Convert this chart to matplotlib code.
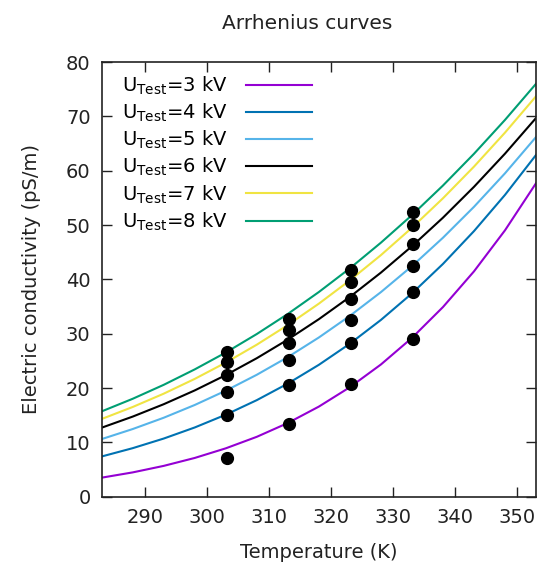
import matplotlib
matplotlib.use("Agg")
import matplotlib.pyplot as plt

plt.rcParams['font.family'] = 'DejaVu Sans'
plt.rcParams['mathtext.fontset'] = 'dejavusans'

# Temperatures of the measurements (K)
temp_meas = [303.15, 313.15, 323.15, 333.15]

# Measured conductivity (pS/m) per test voltage
meas_3kv = [7.2, 13.3, 20.8, 29.0]
meas_4kv = [15.0, 20.6, 28.3, 37.6]
meas_5kv = [19.3, 25.2, 32.5, 42.4]
meas_6kv = [22.4, 28.3, 36.4, 46.5]
meas_7kv = [24.7, 30.7, 39.5, 50.0]
meas_8kv = [26.7, 32.7, 41.7, 52.4]

# Fitted Arrhenius curves, every 5 K
temp_fit = [283, 288, 293, 298, 303, 308, 313, 318, 323, 328, 333, 338, 343, 348, 353]
fit_3kv = [3.50, 4.47, 5.67, 7.13, 8.90, 11.02, 13.56, 16.58, 20.15, 24.33, 29.22, 34.90, 41.47, 49.03, 57.70]
fit_4kv = [7.40, 8.93, 10.70, 12.74, 15.09, 17.77, 20.82, 24.27, 28.16, 32.53, 37.41, 42.84, 48.88, 55.55, 62.90]
fit_5kv = [10.60, 12.45, 14.53, 16.88, 19.51, 22.44, 25.69, 29.30, 33.28, 37.65, 42.43, 47.66, 53.35, 59.52, 66.20]
fit_6kv = [12.70, 14.74, 17.02, 19.56, 22.38, 25.49, 28.92, 32.67, 36.77, 41.24, 46.10, 51.35, 57.03, 63.14, 69.70]
fit_7kv = [14.30, 16.51, 18.96, 21.68, 24.68, 27.98, 31.59, 35.53, 39.82, 44.46, 49.50, 54.92, 60.75, 67.01, 73.70]
fit_8kv = [15.70, 18.02, 20.59, 23.43, 26.53, 29.94, 33.64, 37.67, 42.03, 46.75, 51.82, 57.27, 63.11, 69.35, 76.00]

voltages = [3, 4, 5, 6, 7, 8]
colors = ['#9400d3', '#0072b2', '#56b4e9', '#000000', '#f0e442', '#009e73']

fits = [fit_3kv, fit_4kv, fit_5kv, fit_6kv, fit_7kv, fit_8kv]
meas = [meas_3kv, meas_4kv, meas_5kv, meas_6kv, meas_7kv, meas_8kv]

fig = plt.figure(figsize=(5.42, 5.77), dpi=100)
ax = fig.add_axes([0.1876, 0.1392, 0.8014, 0.7533])

handles = []
for v, c, f in zip(voltages, colors, fits):
    h, = ax.plot(temp_fit, f, color=c, lw=1.5,
                 label=r'U$_{\mathrm{Test}}$=%d kV' % v)
    handles.append(h)

for m in meas:
    ax.plot(temp_meas, m, 'o', color='black', ms=8.5, zorder=5)

ax.set_xlim(283, 353)
ax.set_ylim(0, 80)
ax.set_xticks(range(290, 351, 10))
ax.set_yticks(range(0, 81, 10))
ax.tick_params(direction='in', length=7, width=1, top=True, right=True,
               labelsize=14, pad=8, colors='#222222')
for s in ax.spines.values():
    s.set_linewidth(1.2)
    s.set_color('#222222')

ax.set_title('Arrhenius curves', fontsize=14.5, pad=24, color='#222222', x=0.4735)
ax.set_xlabel('Temperature (K)', fontsize=14, labelpad=12, color='#222222')
ax.set_ylabel('Electric conductivity (pS/m)', fontsize=14, labelpad=18, color='#222222')

ax.legend(handles=handles, loc='upper left', frameon=False, markerfirst=False,
          fontsize=14, handlelength=3.4, handletextpad=0.95, labelspacing=0.25,
          borderaxespad=0.2, bbox_to_anchor=(0.02, 0.998))

fig.savefig('out.png', dpi=100)
